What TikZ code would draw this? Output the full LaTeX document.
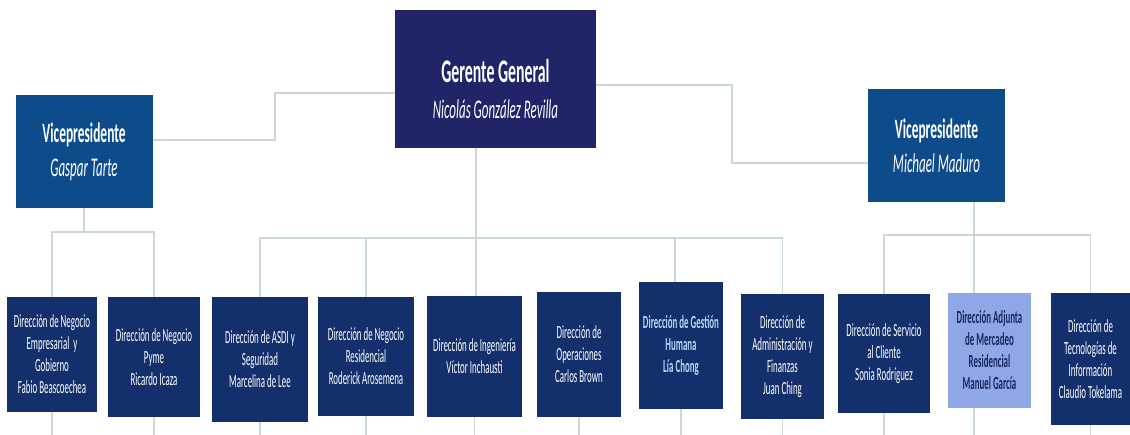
\documentclass[tikz,border=0pt]{standalone}
\usepackage{fontspec}
\setmainfont{Carlito}[FakeStretch=0.48]
\definecolor{ggblue}{HTML}{1F2567}
\definecolor{vpblue}{HTML}{0E4B8B}
\definecolor{dirblue}{HTML}{13306C}
\definecolor{adjblue}{HTML}{8EA7E7}
\definecolor{adjtext}{HTML}{17285E}
\definecolor{liatext}{HTML}{B9D4F5}
\definecolor{linkgray}{HTML}{CCD9DB}
\tikzset{
  box/.style={fill=#1, text=white, inner sep=0pt, align=center},
  gg/.style={box=ggblue, minimum width=201pt, minimum height=138pt,
    font=\fontsize{27}{36}\selectfont},
  vp/.style={box=vpblue, minimum width=137pt, minimum height=113pt,
    font=\fontsize{27}{34}\selectfont},
  dir/.style={box=dirblue, font=\fontsize{18.5}{22}\selectfont},
  link/.style={draw=linkgray, line width=1.2pt},
}
\newcommand{\ttl}[1]{{\fontsize{33}{36}\selectfont\bfseries #1}}
\newcommand{\vttl}[1]{{\fontsize{28}{34}\selectfont\bfseries #1}}
\begin{document}
\begin{tikzpicture}[x=1pt,y=-1pt]
  \fill[white] (0,0) rectangle (1130,435);
  \useasboundingbox (0,0) rectangle (1130,435);
  % top level
  \node[gg] (gg) at (495.5,79) {\rule{0pt}{44pt}\ttl{Gerente General}\\\itshape Nicolás González Revilla};
  \node[vp] (vpl) at (84,151.5) {\vttl{Vicepresidente}\\\itshape Gaspar Tarte};
  \node[vp] (vpr) at (936.5,145.5) {\vttl{Vicepresidente}\\\itshape Michael Maduro};
  % direcciones
  \node[dir, minimum width=90pt, minimum height=115pt] (d1) at (52,354.5)
    {Dirección de Negocio\\Empresarial~ y\\Gobierno\\Fabio Beascoechea};
  \node[dir, minimum width=92pt, minimum height=120pt] (d2) at (154,357)
    {Dirección de Negocio\\Pyme\\Ricardo Icaza};
  \node[dir, minimum width=96pt, minimum height=125pt] (d3) at (260,359.5)
    {Dirección de ASDI y\\Seguridad\\Marcelina de Lee};
  \node[dir, minimum width=96pt, minimum height=119pt] (d4) at (366,356.5)
    {Dirección de Negocio\\Residencial\\Roderick Arosemena};
  \node[dir, minimum width=95pt, minimum height=121pt] (d5) at (474.5,356.5)
    {Dirección de Ingeniería\\Víctor Inchausti};
  \node[dir, minimum width=84pt, minimum height=125pt] (d6) at (579,354.5)
    {Dirección de\\Operaciones\\Carlos Brown};
  \node[dir, minimum width=84pt, minimum height=127pt, text=liatext, font=\fontsize{18.5}{22}\selectfont\bfseries] (d7) at (681,345.5)
    {Dirección de Gestión\\Humana\\Lía Chong};
  \node[dir, minimum width=83pt, minimum height=125pt] (d8) at (782.5,356.5)
    {Dirección de\\Administración y\\Finanzas\\Juan Ching};
  \node[dir, minimum width=92pt, minimum height=119pt] (d9) at (884,353.5)
    {Dirección de Servicio\\al Cliente\\Sonia Rodríguez};
  \node[dir, minimum width=83pt, minimum height=115pt, fill=adjblue, text=adjtext, font=\fontsize{18.5}{22}\selectfont\bfseries] (d10) at (989.5,350.5)
    {Dirección Adjunta\\de Mercadeo\\Residencial\\Manuel García};
  \node[dir, minimum width=79pt, minimum height=132pt] (d11) at (1090.5,359)
    {Dirección de\\Tecnologías de\\Información\\Claudio Tokelama};
  % connectors
  \coordinate (lj1) at (275,140);
  \coordinate (lj2) at (275,93);
  \coordinate (rj1) at (732,85);
  \coordinate (rj2) at (732,163);
  \coordinate (lbar) at (84,232);
  \coordinate (cbar) at (476,238);
  \coordinate (rbar) at (974,235);
  \coordinate (bottom) at (0,435);
  \draw[link] (vpl.east |- lj1) -- (lj1) -- (lj2) -- (gg.west |- lj2);
  \draw[link] (gg.east |- rj1) -- (rj1) -- (rj2) -- (vpr.west |- rj2);
  \draw[link] (vpl.south) -- (lbar);
  \draw[link] (d1.north) |- (lbar) -| (d2.north);
  \draw[link] (gg.south -| cbar) -- (cbar);
  \draw[link] (d3.north) |- (cbar) -| (d8.north);
  \draw[link] (d4.north) -- (d4.north |- cbar);
  \draw[link] (d5.north -| cbar) -- (cbar);
  \draw[link] ([xshift=-6pt]d7.north) -- ([xshift=-6pt]d7.north |- cbar);
  \draw[link] (vpr.south -| rbar) -- (d10.north -| rbar);
  \draw[link] (d9.north) |- (rbar) -| (d11.north);
  \foreach \i in {1,...,9,11}
    \draw[link] (d\i.south) -- (d\i.south |- bottom);
  \draw[link] (d10.south -| rbar) -- (rbar |- bottom);
\end{tikzpicture}
\end{document}
